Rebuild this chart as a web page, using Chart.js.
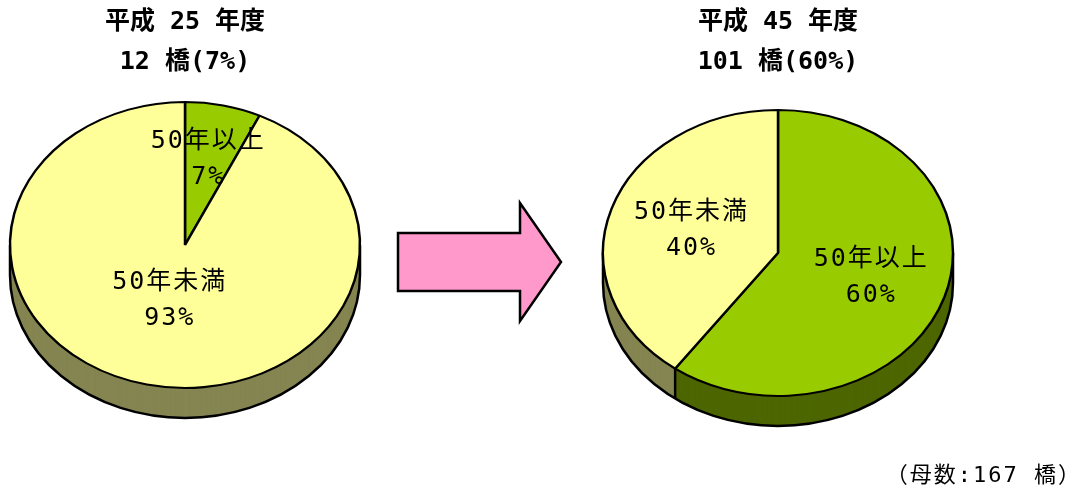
<!DOCTYPE html>
<html>
<head>
<meta charset="utf-8">
<script src="https://cdn.jsdelivr.net/npm/chart.js@4.4.1/dist/chart.umd.min.js"></script>
<style>
    body { margin: 0; background: #fff; width: 1090px; height: 488px; position: relative; overflow: hidden; }
    .box { position: absolute; top: 0; width: 545px; height: 488px; }
    #arrow { position: absolute; left: 0; top: 0; }
    #note { position: absolute; right: 8px; top: 456px; font: 22px "DejaVu Sans Mono", "Noto Sans CJK JP"; letter-spacing: 2px; color: #000; }
</style>
</head>
<body>
<div class="box" style="left:0"><canvas id="pieH25"></canvas></div>
<div class="box" style="left:545px"><canvas id="pieH45"></canvas></div>
<svg id="arrow" width="1090" height="488">
    <polygon points="398,233 520,233 520,203 561,262 520,321 520,291 398,291" fill="#FF99CC" stroke="#000" stroke-width="2.5"/>
</svg>
<div id="note">（母数:167 橋）</div>

<script>
let categories = ["50年以上", "50年未満"];
let titleH25 = ["平成 25 年度", "12 橋(7%)"];
let titleH45 = ["平成 45 年度", "101 橋(60%)"];
let shareH25 = [7, 93];
let shareH45 = [60, 40];

let topColors = ["#99CC00", "#FFFF99"];
let sideColors = ["#4D6600", "#858552"];
let fontStack = '"DejaVu Sans Mono", "Noto Sans CJK JP"';

// flattens the pie into an ellipse and gives it a side wall
let tiltPie = {
    id: 'tiltPie',
    beforeDatasetsDraw(chart, args, opts) {
        let ctx = chart.ctx;
        let arcs = chart.getDatasetMeta(0).data;
        let cx = arcs[0].x, cy = arcs[0].y, r = arcs[0].outerRadius;
        let top = cy - r;
        let k = opts.squash, depth = opts.depth;
        let cyS = top + k * r;

        for (let d = depth; d > 0; d--) {
            arcs.forEach(function (arc, i) {
                ctx.save();
                ctx.translate(cx, top + d);
                ctx.scale(1, k);
                ctx.translate(-cx, -top);
                ctx.beginPath();
                ctx.moveTo(cx, cy);
                ctx.arc(cx, cy, r, arc.startAngle, arc.endAngle);
                ctx.closePath();
                ctx.fillStyle = sideColors[i];
                ctx.fill();
                ctx.restore();
            });
        }

        ctx.save();
        ctx.strokeStyle = '#000';
        ctx.lineWidth = 2.5;
        ctx.beginPath();
        ctx.ellipse(cx, cyS + depth, r, k * r, 0, 0, Math.PI);
        ctx.stroke();
        let edges = [0, Math.PI];
        arcs.forEach(function (arc) {
            let a = ((arc.startAngle % (2 * Math.PI)) + 2 * Math.PI) % (2 * Math.PI);
            if (a > 0 && a < Math.PI) edges.push(a);
        });
        edges.forEach(function (a) {
            let x = cx + Math.cos(a) * r;
            let y = cyS + Math.sin(a) * r * k;
            ctx.beginPath();
            ctx.moveTo(x, y);
            ctx.lineTo(x, y + depth);
            ctx.stroke();
        });
        ctx.restore();

        ctx.save();
        ctx.translate(cx, top);
        ctx.scale(1, k);
        ctx.translate(-cx, -top);
    },
    afterDatasetsDraw(chart, args, opts) {
        let ctx = chart.ctx;
        ctx.restore();
        let arcs = chart.getDatasetMeta(0).data;
        let values = chart.data.datasets[0].data;
        let cx = arcs[0].x, cy = arcs[0].y, r = arcs[0].outerRadius;
        let k = opts.squash;
        let cyS = cy - r + k * r;
        ctx.save();
        ctx.font = '25px ' + fontStack;
        ctx.letterSpacing = '2px';
        ctx.fillStyle = '#000';
        ctx.textAlign = 'center';
        ctx.textBaseline = 'middle';
        arcs.forEach(function (arc, i) {
            let mid = (arc.startAngle + arc.endAngle) / 2;
            let f = opts.labelRadius[i];
            let px = cx + Math.cos(mid) * r * f;
            let py = cyS + Math.sin(mid) * r * f * k;
            ctx.fillText(chart.data.labels[i], px, py - 18);
            ctx.fillText(values[i] + '%', px, py + 18);
        });
        ctx.restore();
    }
};

function makePie(id, values, title, pad, titleGap, labelRadius) {
    return new Chart(document.getElementById(id), {
        type: 'pie',
        data: {
            labels: categories,
            datasets: [{
                data: values,
                backgroundColor: topColors,
                borderColor: '#000',
                borderWidth: 2.5
            }]
        },
        options: {
            responsive: true,
            maintainAspectRatio: false,
            animation: false,
            events: [],
            radius: 175,
            layout: { padding: pad },
            plugins: {
                legend: { display: false },
                tooltip: { enabled: false },
                title: {
                    display: true,
                    text: title,
                    color: '#000',
                    font: { family: fontStack, size: 25, weight: 'bold', lineHeight: '40px' },
                    padding: { top: 2, bottom: titleGap }
                },
                tiltPie: { squash: 0.817, depth: 30, labelRadius: labelRadius }
            }
        },
        plugins: [tiltPie]
    });
}

makePie('pieH25', shareH25, titleH25, { left: 10, right: 185, top: 0, bottom: 36 }, 20, [0.61, 0.4]);
makePie('pieH45', shareH45, titleH45, { left: 58, right: 137, top: 0, bottom: 28 }, 28, [0.56, 0.52]);
</script>
</body>
</html>
